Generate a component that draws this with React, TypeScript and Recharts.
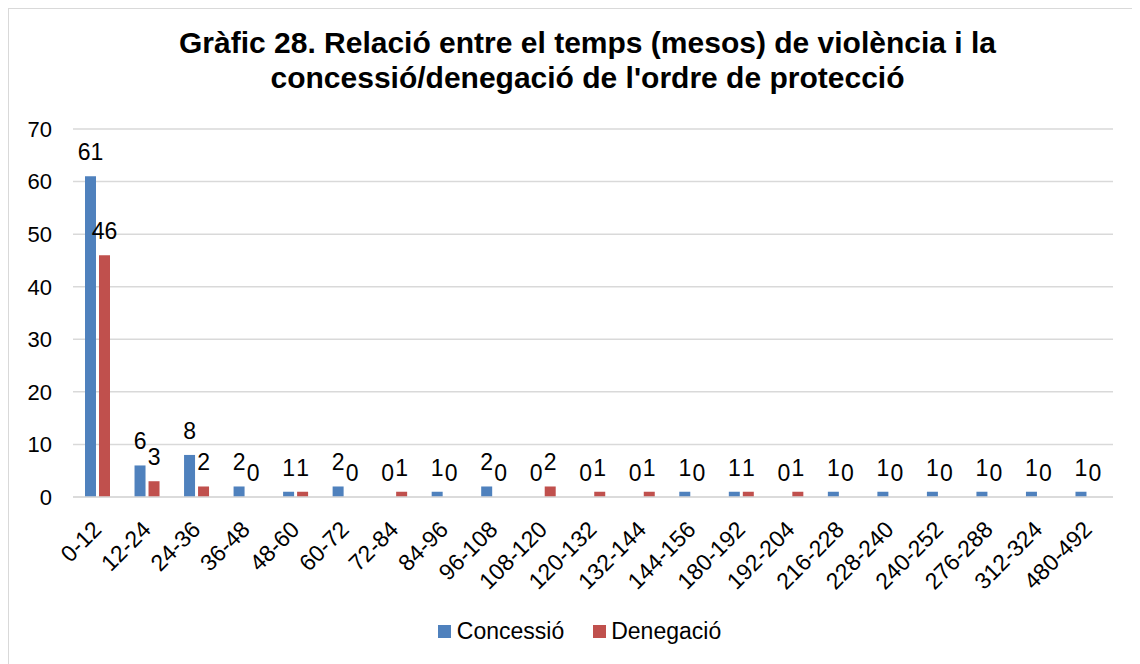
import React from 'react';
import { BarChart, Bar, XAxis, YAxis, CartesianGrid, Legend, LabelList } from 'recharts';

const categories = [
  '0-12', '12-24', '24-36', '36-48', '48-60', '60-72', '72-84', '84-96', '96-108', '108-120',
  '120-132', '132-144', '144-156', '180-192', '192-204', '216-228', '228-240', '240-252',
  '276-288', '312-324', '480-492',
];
const concessio = [61, 6, 8, 2, 1, 2, 0, 1, 2, 0, 0, 0, 1, 1, 0, 1, 1, 1, 1, 1, 1];
const denegacio = [46, 3, 2, 0, 1, 0, 1, 0, 0, 2, 1, 1, 0, 1, 1, 0, 0, 0, 0, 0, 0];
const yTicks = [0, 10, 20, 30, 40, 50, 60, 70];

const FONT = '"Liberation Sans", Arial, sans-serif';
const BLUE = '#4F81BD';
const RED = '#C0504D';

const data = categories.map((c, i) => ({
  name: c,
  concessio: concessio[i],
  denegacio: denegacio[i],
}));

const AngledTick = ({ x, y, payload }: any) => (
  <g transform={`translate(${x + 5},${y + 26})`}>
    <text
      x={0}
      y={0}
      textAnchor="end"
      transform="rotate(-45)"
      fontSize={23}
      fontFamily={FONT}
      fill="#000"
    >
      {payload.value}
    </text>
  </g>
);

const LegendContent = () => (
  <div
    style={{
      display: 'flex',
      justifyContent: 'center',
      alignItems: 'center',
      height: 30,
      fontFamily: FONT,
      fontSize: 23,
      color: '#000',
      paddingLeft: 37,
    }}
  >
    <span style={{ display: 'inline-block', width: 13, height: 13, background: BLUE, marginRight: 6 }} />
    <span style={{ marginRight: 29 }}>Concessió</span>
    <span style={{ display: 'inline-block', width: 13, height: 13, background: RED, marginRight: 5 }} />
    <span>Denegació</span>
  </div>
);

export default function App() {
  return (
    <div
      style={{
        position: 'relative',
        width: 1131,
        height: 655,
        borderTop: '1px solid #d9d9d9',
        borderLeft: '1px solid #d9d9d9',
        background: '#fff',
        fontFamily: FONT,
      }}
    >
      <div
        style={{
          position: 'absolute',
          top: 16,
          left: 0,
          width: 1157,
          textAlign: 'center',
          fontWeight: 'bold',
          fontSize: 30,
          lineHeight: '35px',
          color: '#000',
        }}
      >
        <div>Gràfic 28. Relació entre el temps (mesos) de violència i la</div>
        <div>concessió/denegació de l'ordre de protecció</div>
      </div>
      <BarChart
        width={1131}
        height={655}
        data={data}
        margin={{ top: 120, right: 27, left: 0, bottom: 18 }}
        barSize={11}
        barGap={3}
      >
        <CartesianGrid vertical={false} stroke="#d9d9d9" strokeWidth={1.5} />
        <XAxis
          dataKey="name"
          interval={0}
          height={119}
          tick={<AngledTick />}
          tickLine={false}
          axisLine={{ stroke: '#d9d9d9', strokeWidth: 1.5 }}
        />
        <YAxis
          width={64}
          domain={[0, 70]}
          ticks={yTicks}
          tickLine={false}
          axisLine={false}
          tickMargin={15}
          tick={{ fontSize: 22, fill: '#000', fontFamily: FONT }}
        />
        <Legend verticalAlign="bottom" height={30} content={<LegendContent />} />
        <Bar dataKey="concessio" name="Concessió" fill={BLUE} minPointSize={0.01} isAnimationActive={false}>
          <LabelList dataKey="concessio" position="top" offset={16} fill="#000" fontSize={23} fontFamily={FONT} />
        </Bar>
        <Bar dataKey="denegacio" name="Denegació" fill={RED} minPointSize={0.01} isAnimationActive={false}>
          <LabelList dataKey="denegacio" position="top" offset={16} fill="#000" fontSize={23} fontFamily={FONT} />
        </Bar>
      </BarChart>
    </div>
  );
}
